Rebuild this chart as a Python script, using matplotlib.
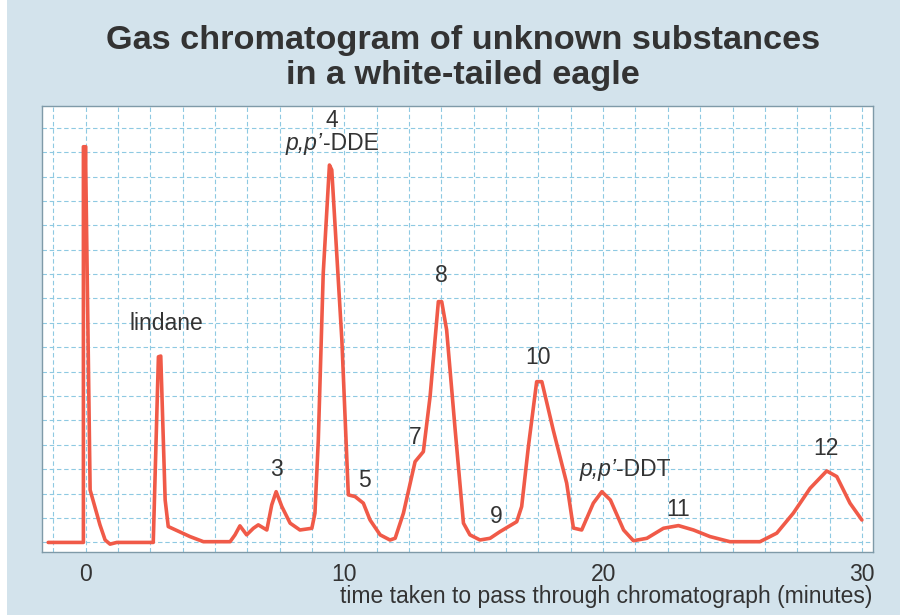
import matplotlib
matplotlib.use("Agg")
import matplotlib.pyplot as plt
import numpy as np
from matplotlib.patches import Rectangle

plt.rcParams['font.family'] = ['Liberation Sans', 'DejaVu Sans']

# retention time (minutes)
time_min = [-1.45, -0.09, -0.09, 0.0, 0.0, 0.17, 0.55, 0.75, 0.94, 1.20,
            2.61, 2.81, 2.90, 3.07, 3.19, 4.03, 4.55, 5.58, 5.77, 5.96,
            6.22, 6.48, 6.67, 7.00, 7.19, 7.36, 7.58, 7.90, 8.28, 8.74,
            8.86, 8.99, 9.18, 9.42, 9.51, 9.90, 10.15, 10.41, 10.73, 10.99,
            11.38, 11.76, 11.96, 12.28, 12.73, 13.05, 13.31, 13.63, 13.76, 13.95,
            14.28, 14.60, 14.85, 15.24, 15.63, 16.01, 16.66, 16.85, 17.11, 17.43,
            17.63, 18.07, 18.59, 18.85, 19.17, 19.62, 19.95, 20.28, 20.79, 21.17,
            21.69, 22.33, 22.91, 23.49, 24.13, 24.90, 26.06, 26.71, 27.35, 28.00,
            28.64, 29.03, 29.54, 30.00]
# detector response (grid units)
response = [0.0, 0.0, 16.22, 16.22, 15.40, 2.15, 0.72, 0.10, -0.07, 0.0,
            0.0, 7.61, 7.64, 1.74, 0.65, 0.24, 0.03, 0.03, 0.31, 0.68,
            0.31, 0.58, 0.72, 0.51, 1.54, 2.08, 1.47, 0.79, 0.51, 0.58,
            1.20, 4.20, 11.03, 15.47, 15.27, 8.30, 1.95, 1.88, 1.61, 0.92,
            0.31, 0.10, 0.17, 1.20, 3.31, 3.72, 5.98, 9.87, 9.87, 8.71,
            4.61, 0.79, 0.31, 0.10, 0.17, 0.44, 0.85, 1.47, 3.93, 6.59,
            6.59, 4.61, 2.43, 0.59, 0.51, 1.61, 2.08, 1.74, 0.51, 0.07,
            0.17, 0.58, 0.69, 0.51, 0.24, 0.03, 0.03, 0.38, 1.20, 2.22,
            2.93, 2.70, 1.61, 0.92]

peak_labels = ["lindane", "4", "3", "5", "7", "8", "9", "10", "11", "12"]
label_x = [3.10, 9.52, 7.36, 10.76, 12.73, 13.73, 15.86, 17.48, 22.89, 28.62]
label_y = [8.96, 17.30, 3.01, 2.52, 4.32, 10.96, 1.05, 7.60, 1.33, 3.83]

# compound names: italic prefix + upright suffix, joined at x
compound_prefix = ["p,p\u2019", "p,p\u2019"]
compound_suffix = ["-DDE", "-DDT"]
compound_x = [9.17, 20.50]
compound_y = [16.37, 2.97]

xticks = [0, 10, 20, 30]
xlabel = "time taken to pass through chromatograph (minutes)"
title = "Gas chromatogram of unknown substances\nin a white-tailed eagle"

bg = "#d3e3ec"
txt = "#333333"
line_col = "#f05a48"
grid_col = "#8ec9e2"
fs = 16.5

fig = plt.figure(figsize=(9, 6.15), dpi=100, facecolor=bg)
fig.patches.append(Rectangle((0, 0), 7 / 900, 1, transform=fig.transFigure,
                             facecolor="white", edgecolor="none", zorder=0))
ax = fig.add_axes([42 / 900, 1 - 551.7 / 615, 831 / 900, (551.7 - 106) / 615])
ax.set_facecolor("white")
ax.set_xlim(-1.69, 30.43)
ax.set_ylim(-0.38, 17.89)

for gx in np.arange(-1.25, 30.01, 1.25):
    ax.axvline(gx, color=grid_col, lw=0.8, ls=(0, (4, 2.5)), zorder=1)
for gy in np.arange(0, 17.01, 1):
    ax.axhline(gy, color=grid_col, lw=0.8, ls=(0, (4, 2.5)), zorder=1)

ax.plot(time_min, response, color=line_col, lw=2.6, solid_joinstyle="round",
        solid_capstyle="round", zorder=3)

for s, x, y in zip(peak_labels, label_x, label_y):
    ax.text(x, y, s, ha="center", va="center", fontsize=fs, color=txt, zorder=4)

for pre, suf, x, y in zip(compound_prefix, compound_suffix, compound_x, compound_y):
    ax.text(x, y, pre, ha="right", va="center", fontsize=fs, color=txt,
            style="italic", zorder=4)
    ax.text(x, y, suf, ha="left", va="center", fontsize=fs, color=txt, zorder=4)

ax.set_xticks(xticks)
ax.set_xticklabels([str(t) for t in xticks], fontsize=fs, color=txt)
ax.tick_params(axis="x", length=0, pad=8)
ax.set_yticks([])
for sp in ax.spines.values():
    sp.set_color("#7f9aa8")
    sp.set_linewidth(1.0)

fig.text(872 / 900, 1 - 597 / 615, xlabel, ha="right", va="center", fontsize=fs, color=txt)
fig.text(463 / 900, 1 - 58 / 615, title, ha="center", va="center", fontsize=24.7,
         fontweight="bold", color=txt, linespacing=1.15)

fig.savefig("out.png", dpi=100, facecolor=bg)
